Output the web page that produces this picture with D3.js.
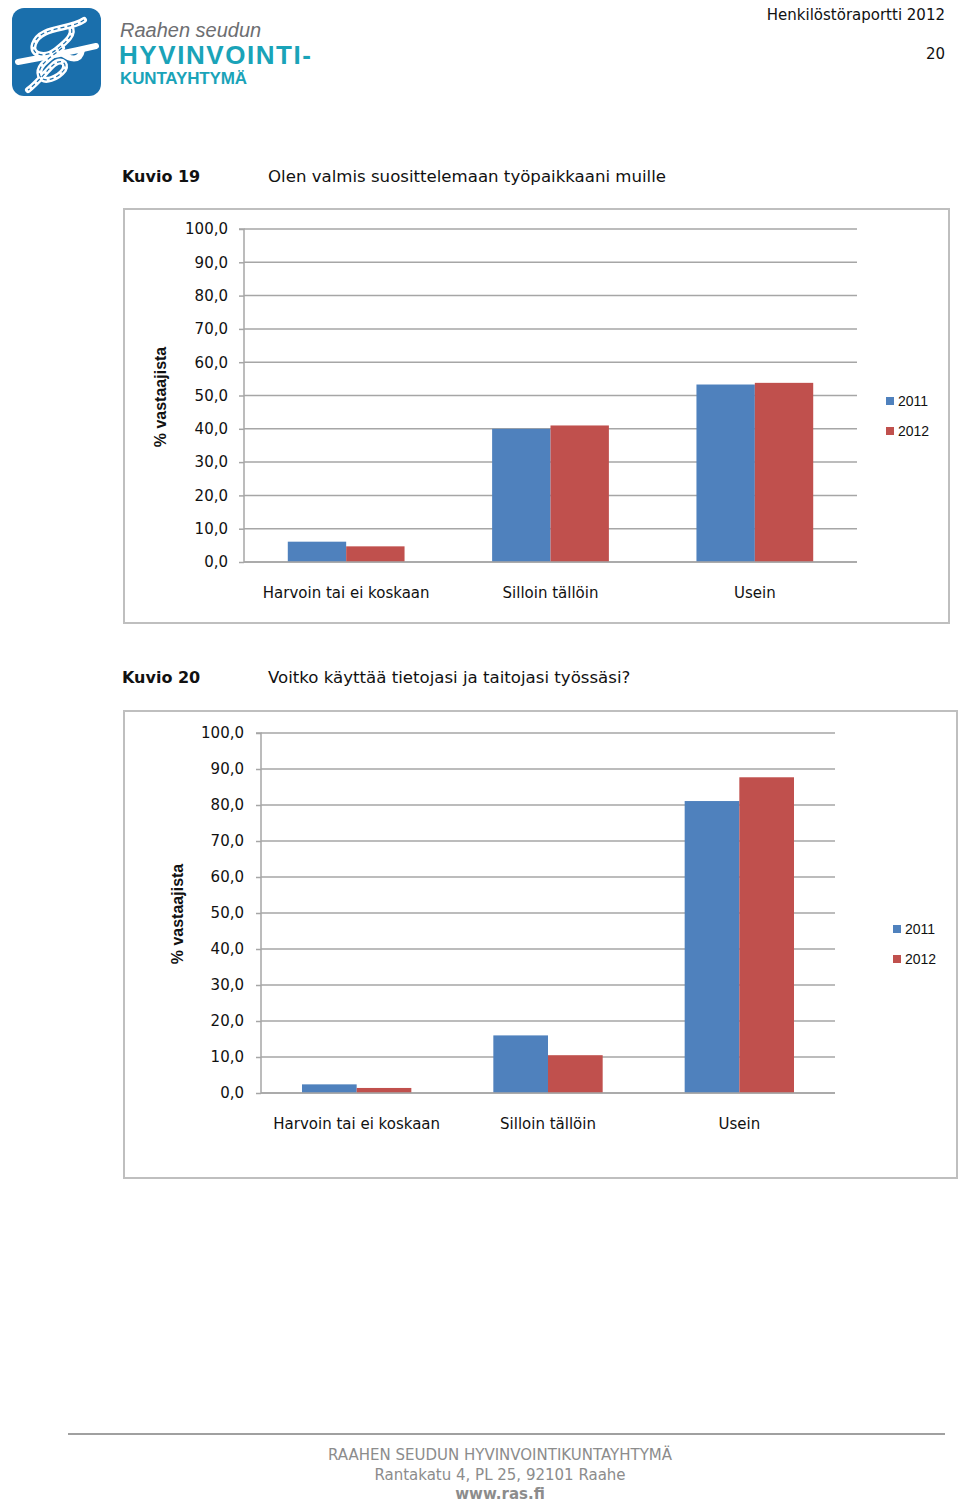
<!DOCTYPE html>
<html><head><meta charset="utf-8">
<script src="https://cdn.jsdelivr.net/npm/d3@7"></script>
<style>
body{margin:0;background:#fff;}
svg{display:block;}
text{font-family:"DejaVu Sans",Verdana,sans-serif;}
</style></head>
<body>
<script>
// ---- data ----
const categories = ["Harvoin tai ei koskaan", "Silloin tällöin", "Usein"];
const seriesNames = ["2011", "2012"];
const chart19_2011 = [6.1, 40.0, 53.3];
const chart19_2012 = [4.7, 41.0, 53.8];
const chart20_2011 = [2.4, 16.0, 81.1];
const chart20_2012 = [1.4, 10.5, 87.7];
const yTicks = [0, 10, 20, 30, 40, 50, 60, 70, 80, 90, 100];
const colors = ["#4f81bd", "#c0504d"];

const W = 960, H = 1503;
const svg = d3.select("body").append("svg").attr("width", W).attr("height", H);
const LIB = "'Liberation Sans', Arial, sans-serif";

// ---- header ----
const logo = svg.append("g");
logo.append("rect").attr("x", 12).attr("y", 8).attr("width", 89).attr("height", 88).attr("rx", 12).attr("fill", "#1a6fac");
const knot = logo.append("g").attr("fill", "none").attr("stroke", "#fff").attr("stroke-width", 6).attr("stroke-linecap", "round");
knot.append("path").attr("d", "M18,62 C40,58 70,52 96,46");
knot.append("path").attr("d", "M84,20 C70,30 40,26 34,44 C30,56 46,58 56,50 C66,42 76,34 70,26");
knot.append("path").attr("d", "M62,48 C50,58 36,66 40,76 C44,84 58,78 64,70 C68,62 60,58 52,66 C44,74 36,84 28,90");
knot.append("path").attr("d", "M60,52 C70,60 80,62 82,50");
const lk = logo.append("g").attr("fill", "none").attr("stroke", "#1a6fac").attr("stroke-width", 1.2).attr("stroke-dasharray", "4,3");
lk.append("path").attr("d", "M84,20 C70,30 40,26 34,44 C30,56 46,58 56,50 C66,42 76,34 70,26");
lk.append("path").attr("d", "M62,48 C50,58 36,66 40,76 C44,84 58,78 64,70 C68,62 60,58 52,66 C44,74 36,84 28,90");
logo.append("text").attr("x", 120).attr("y", 37).attr("font-size", 20).attr("font-style", "italic").style("font-family", LIB).attr("fill", "#6d6e71").text("Raahen seudun");
logo.append("text").attr("x", 119).attr("y", 64).attr("font-size", 26).attr("font-weight", "bold").style("font-family", LIB).attr("fill", "#1aa3b8").attr("textLength", 192).text("HYVINVOINTI-");
logo.append("text").attr("x", 120).attr("y", 84).attr("font-size", 17).attr("font-weight", "bold").style("font-family", LIB).attr("fill", "#1aa3b8").attr("textLength", 127).text("KUNTAYHTYMÄ");

svg.append("text").attr("x", 945).attr("y", 20).attr("text-anchor", "end").attr("font-size", 15).attr("fill", "#111").text("Henkilöstöraportti 2012");
svg.append("text").attr("x", 945).attr("y", 59).attr("text-anchor", "end").attr("font-size", 15).attr("fill", "#111").text("20");

// ---- chart function ----
function drawChart(cfg) {
  const g = svg.append("g");
  g.append("text").attr("x", 122).attr("y", cfg.capY).attr("font-size", 16).attr("font-weight", "bold").attr("fill", "#111").text(cfg.caption);
  g.append("text").attr("x", 268).attr("y", cfg.capY).attr("font-size", 16.6).attr("fill", "#111").text(cfg.title);
  g.append("rect").attr("x", cfg.box[0]).attr("y", cfg.box[1]).attr("width", cfg.box[2] - cfg.box[0]).attr("height", cfg.box[3] - cfg.box[1])
    .attr("fill", "#fff").attr("stroke", "#bfbfbf").attr("stroke-width", 2);

  const y = d3.scaleLinear().domain([0, 100]).range([cfg.y0, cfg.y100]);
  const x = d3.scaleBand().domain(categories).range([cfg.xL, cfg.xR]).padding(0);
  const step = x.bandwidth();
  const barW = step / 3.5;
  const gap = barW * 1.5;
  const xs = d3.scaleBand().domain(seriesNames).range([gap / 2, step - gap / 2]).padding(0);

  g.append("g").selectAll("line").data(yTicks).join("line")
    .attr("x1", cfg.xL).attr("x2", cfg.xR).attr("y1", d => y(d)).attr("y2", d => y(d))
    .attr("stroke", "#a6a6a6").attr("stroke-width", 1.5);

  const ya = g.append("g").attr("transform", `translate(${cfg.xL},0)`)
    .call(d3.axisLeft(y).tickValues(yTicks).tickSize(5).tickPadding(cfg.tickPad).tickFormat(d => d.toFixed(1).replace(".", ",")));
  ya.select(".domain").attr("stroke", "#a6a6a6").attr("stroke-width", 1.5).attr("d", `M-5,${cfg.y100}H0V${cfg.y0}`);
  ya.selectAll(".tick line").attr("stroke", "#a6a6a6").attr("stroke-width", 1.5);
  ya.selectAll(".tick text").attr("font-size", 15).attr("fill", "#111").style("font-family", "'DejaVu Sans', Verdana, sans-serif");

  const data = [cfg.s2011, cfg.s2012];
  seriesNames.forEach((s, si) => {
    g.append("g").selectAll("rect").data(categories).join("rect")
      .attr("x", c => x(c) + xs(s))
      .attr("width", xs.bandwidth())
      .attr("y", (c, i) => y(data[si][i]))
      .attr("height", (c, i) => y(0) - y(data[si][i]))
      .attr("fill", colors[si]);
  });

  g.append("line").attr("x1", cfg.xL).attr("x2", cfg.xR).attr("y1", y(0)).attr("y2", y(0)).attr("stroke", "#a6a6a6").attr("stroke-width", 1.5);
  g.append("g").selectAll("text").data(categories).join("text")
    .attr("x", c => x(c) + step / 2).attr("y", cfg.catY).attr("text-anchor", "middle")
    .attr("font-size", 15).attr("fill", "#111").text(c => c);

  g.append("text").attr("transform", `translate(${cfg.ytX},${cfg.ytY}) rotate(-90)`)
    .attr("text-anchor", "middle").attr("font-size", 16).attr("font-weight", "bold").style("font-family", LIB).attr("fill", "#111").text("% vastaajista");

  seriesNames.forEach((s, si) => {
    g.append("rect").attr("x", cfg.legX).attr("y", cfg.legY + si * cfg.legDy - 4).attr("width", 8).attr("height", 8).attr("fill", colors[si]);
    g.append("text").attr("x", cfg.legX + 12).attr("y", cfg.legY + si * cfg.legDy + 5).attr("font-size", 14).style("font-family", LIB).attr("fill", "#111").text(s);
  });
}

drawChart({
  caption: "Kuvio 19", title: "Olen valmis suosittelemaan työpaikkaani muille", capY: 182,
  box: [124, 209, 949, 623], y0: 562, y100: 229, xL: 244, xR: 857, tickPad: 11,
  s2011: chart19_2011, s2012: chart19_2012, catY: 598, ytX: 166, ytY: 397,
  legX: 886, legY: 401, legDy: 30
});
drawChart({
  caption: "Kuvio 20", title: "Voitko käyttää tietojasi ja taitojasi työssäsi?", capY: 683,
  box: [124, 711, 957, 1178], y0: 1093, y100: 733, xL: 261, xR: 835, tickPad: 12,
  s2011: chart20_2011, s2012: chart20_2012, catY: 1129, ytX: 183, ytY: 914,
  legX: 893, legY: 929, legDy: 30
});

// ---- footer ----
svg.append("line").attr("x1", 68).attr("x2", 945).attr("y1", 1434).attr("y2", 1434).attr("stroke", "#808080").attr("stroke-width", 1.5);
const ft = [["RAAHEN SEUDUN HYVINVOINTIKUNTAYHTYMÄ", 1460, "normal"], ["Rantakatu 4, PL 25, 92101 Raahe", 1480, "normal"], ["www.ras.fi", 1499, "bold"]];
svg.append("g").selectAll("text").data(ft).join("text")
  .attr("x", 500).attr("y", d => d[1]).attr("text-anchor", "middle").attr("font-size", 15)
  .attr("font-weight", d => d[2]).attr("fill", "#8c8c8c").text(d => d[0]);
</script>
</body></html>
